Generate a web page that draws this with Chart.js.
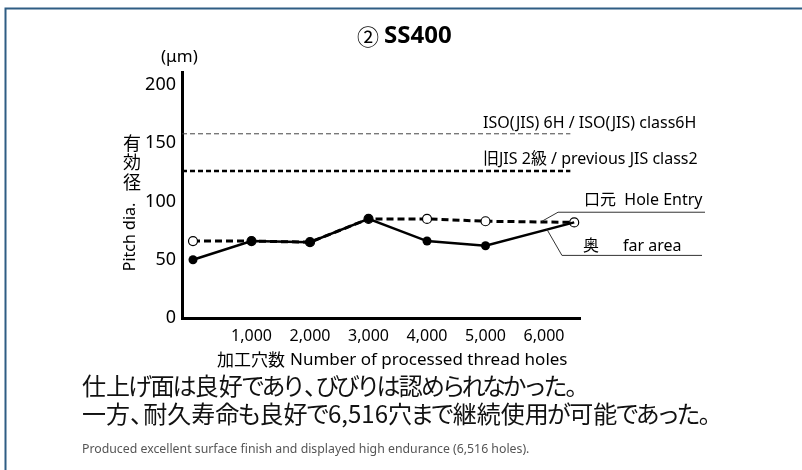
<!DOCTYPE html>
<html lang="ja">
<head>
<meta charset="UTF-8">
<title>SS400 Pitch diameter</title>
<script src="https://cdn.jsdelivr.net/npm/chart.js"></script>
<style>
  body { margin: 0; background: #fff; }
  canvas { display: block; }
</style>
</head>
<body>
<canvas id="pitchChart" width="802" height="470"></canvas>
<script>
// 加工穴数ごとの有効径 (μm)
const holeCounts = [0, 1000, 2000, 3000, 4000, 5000, 6516];
const holeEntry = [66, 66, 65, 85, 85, 83, 82];   // 口元
const farArea = [50, 66, 65, 85, 66, 62, 82];     // 奥
const isoLimit = 158;   // ISO(JIS) 6H
const jisLimit = 126;   // 旧JIS 2級
const limitRange = [-188, 6450];
const xTickValues = [1000, 2000, 3000, 4000, 5000, 6000];
const yTickValues = [0, 50, 100, 150, 200];

const SANS = '"Noto Sans", "Noto Sans CJK JP", sans-serif';
const CJK = '"Noto Sans CJK JP", "Noto Sans", sans-serif';

function toPoints(xs, ys) {
  return xs.map((x, i) => ({ x: x, y: ys[i] }));
}

// かなと句読点を詰めて描く（プロポーショナル組み）
function drawProportional(ctx, text, x, y, size) {
  ctx.font = size + 'px ' + CJK;
  ctx.textAlign = 'left';
  let cx = x;
  for (const ch of text) {
    const w = ctx.measureText(ch).width;
    const code = ch.codePointAt(0);
    if (code === 0x3001 || code === 0x3002) {
      ctx.fillText(ch, cx, y);
      cx += size * 0.55;
    } else if (code >= 0x3040 && code <= 0x30ff) {
      const adv = w * 0.85;
      ctx.fillText(ch, cx - (w - adv) / 2, y);
      cx += adv;
    } else {
      ctx.fillText(ch, cx, y);
      cx += w;
    }
  }
}

// 背景・枠線・テキスト類
const decorations = {
  id: 'decorations',
  beforeDraw(chart) {
    const ctx = chart.ctx;
    ctx.save();
    ctx.fillStyle = '#fff';
    ctx.fillRect(0, 0, chart.width, chart.height);
    ctx.strokeStyle = '#2f5d84';
    ctx.lineWidth = 2;
    ctx.beginPath();
    ctx.moveTo(5.5, chart.height);
    ctx.lineTo(5.5, 8.5);
    ctx.lineTo(chart.width, 8.5);
    ctx.stroke();
    ctx.restore();
  },
  afterDraw(chart) {
    const ctx = chart.ctx;
    const xs = chart.scales.x, ys = chart.scales.y;
    ctx.save();
    ctx.fillStyle = '#000';
    ctx.textBaseline = 'middle';

    // タイトル
    ctx.textAlign = 'left';
    ctx.font = '22px ' + CJK;
    ctx.fillText('②', 357, 37);
    ctx.font = 'bold 24px ' + SANS;
    ctx.fillText('SS400', 384, 36);

    // 単位
    ctx.font = '17px ' + SANS;
    ctx.fillText('(μm)', 161, 57);

    // 縦軸タイトル
    ctx.textAlign = 'center';
    ctx.font = '18px ' + CJK;
    ['有', '効', '径'].forEach((c, i) => ctx.fillText(c, 132, 143 + i * 19.5));
    ctx.save();
    ctx.translate(130, 237);
    ctx.rotate(-Math.PI / 2);
    ctx.font = '16px ' + SANS;
    ctx.fillText('Pitch dia.', 0, 0);
    ctx.restore();

    // 横軸タイトル
    ctx.textAlign = 'left';
    ctx.font = '17px ' + CJK;
    ctx.fillText('加工穴数', 217, 360);
    ctx.font = '17px ' + SANS;
    ctx.fillText('Number of processed thread holes', 290, 360);

    // 規格線ラベル
    ctx.font = '16px ' + SANS;
    ctx.fillText('ISO(JIS) 6H / ISO(JIS) class6H', 483, 123);
    ctx.fillText('旧JIS 2級 / previous JIS class2', 483, 159);

    // 凡例ラベルと引き出し線
    ctx.fillText('口元  Hole Entry', 584, 200);
    ctx.fillText('奥', 583, 246);
    ctx.fillText('far area', 623, 246);

    ctx.strokeStyle = '#333';
    ctx.lineWidth = 1;
    const ex = xs.getPixelForValue(5966), ey = ys.getPixelForValue(83);
    ctx.beginPath();
    ctx.moveTo(ex, ey);
    ctx.lineTo(ex + 16, ey - 9);
    ctx.lineTo(705, ey - 9);
    ctx.stroke();
    const fx = xs.getPixelForValue(6050), fy = ys.getPixelForValue(76);
    ctx.beginPath();
    ctx.moveTo(fx, fy);
    ctx.lineTo(fx + 15, fy + 26);
    ctx.lineTo(702, fy + 26);
    ctx.stroke();

    // 説明文
    ctx.fillStyle = '#111';
    drawProportional(ctx, '仕上げ面は良好であり、びびりは認められなかった。', 82, 386, 24);
    drawProportional(ctx, '一方、耐久寿命も良好で6,516穴まで継続使用が可能であった。', 82, 414, 24);
    ctx.fillStyle = '#555';
    ctx.font = '12.3px ' + SANS;
    ctx.fillText('Produced excellent surface finish and displayed high endurance (6,516 holes).', 82, 449);
    ctx.restore();
  }
};

new Chart(document.getElementById('pitchChart'), {
  type: 'line',
  data: {
    datasets: [
      {
        label: '奥 far area',
        data: toPoints(holeCounts, farArea),
        borderColor: '#000',
        borderWidth: 2.5,
        pointRadius: holeCounts.map((_, i) => i === holeCounts.length - 1 ? 0 : 4.5),
        pointBackgroundColor: '#000',
        pointBorderColor: '#000',
        pointBorderWidth: 0,
        tension: 0
      },
      {
        label: '口元 Hole Entry',
        data: toPoints(holeCounts, holeEntry),
        borderColor: '#000',
        borderWidth: 3,
        borderDash: [7, 4],
        pointRadius: 4.5,
        pointBackgroundColor: '#fff',
        pointBorderColor: '#000',
        pointBorderWidth: 1.2,
        tension: 0
      },
      {
        label: '旧JIS 2級',
        data: toPoints(limitRange, [jisLimit, jisLimit]),
        borderColor: '#000',
        borderWidth: 2.5,
        borderDash: [5, 3],
        pointRadius: 0
      },
      {
        label: 'ISO(JIS) 6H',
        data: toPoints(limitRange, [isoLimit, isoLimit]),
        borderColor: '#444',
        borderWidth: 1,
        borderDash: [5, 3],
        pointRadius: 0
      }
    ]
  },
  options: {
    responsive: false,
    animation: false,
    layout: { padding: { left: 0, top: 72, right: 222, bottom: 112 } },
    plugins: {
      legend: { display: false },
      tooltip: { enabled: false }
    },
    scales: {
      x: {
        type: 'linear',
        min: -188,
        max: 6615,
        grid: { display: false, drawTicks: false },
        border: { display: true, color: '#000', width: 3 },
        ticks: {
          autoSkip: false,
          maxRotation: 0,
          padding: 9,
          color: '#000',
          font: { family: SANS, size: 16 },
          callback: v => v.toLocaleString('en-US')
        },
        afterBuildTicks: s => { s.ticks = xTickValues.map(v => ({ value: v })); },
        afterFit: s => { s.height = 40; }
      },
      y: {
        min: 0,
        max: 211,
        grid: { display: false, drawTicks: false },
        border: { display: true, color: '#000', width: 3 },
        ticks: {
          padding: 6,
          color: '#000',
          font: { family: SANS, size: 18 }
        },
        afterBuildTicks: s => { s.ticks = yTickValues.map(v => ({ value: v })); },
        afterFit: s => { s.width = 182; }
      }
    }
  },
  plugins: [decorations]
});
</script>
</body>
</html>
